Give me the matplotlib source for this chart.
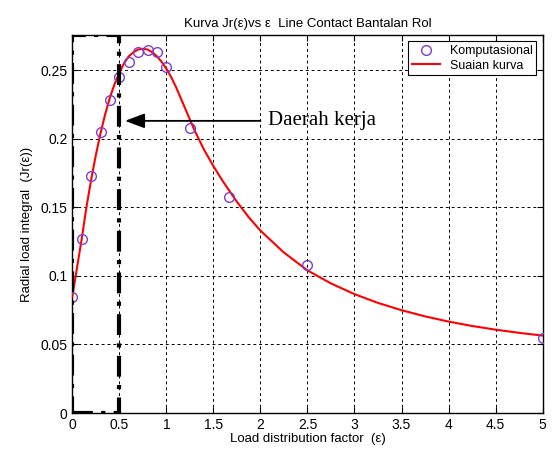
import matplotlib
matplotlib.use("Agg")
import matplotlib.pyplot as plt

# computed points
eps_k = [0, 0.1, 0.2, 0.3, 0.4, 0.5, 0.6, 0.7, 0.8, 0.9, 1.0, 1.25, 1.667, 2.5, 5.0]
jr_k = [0.0845, 0.1266, 0.1727, 0.205, 0.228, 0.245, 0.256, 0.263, 0.2646, 0.263,
        0.252, 0.2075, 0.1577, 0.1079, 0.0545]

# fitted curve
eps_c = [0, 0.05, 0.1, 0.15, 0.2, 0.25, 0.3, 0.35, 0.4, 0.45, 0.5, 0.55, 0.6, 0.65,
         0.7, 0.75, 0.8, 0.85, 0.9, 0.95, 1.0, 1.05, 1.1, 1.15, 1.2, 1.25, 1.3, 1.4,
         1.5, 1.6, 1.75, 1.875, 2.0, 2.25, 2.5, 2.75, 3.0, 3.25, 3.5, 3.75, 4.0, 4.25,
         4.5, 4.75, 5.0]
jr_c = [0.085, 0.106, 0.127, 0.150, 0.170, 0.188, 0.204, 0.218, 0.230, 0.240,
        0.248, 0.255, 0.260, 0.263, 0.265, 0.2655, 0.265, 0.263, 0.260, 0.256,
        0.251, 0.245, 0.238, 0.230, 0.222, 0.214, 0.206, 0.192, 0.180, 0.169,
        0.154, 0.1428, 0.133, 0.117, 0.104, 0.0945, 0.0867, 0.0803, 0.075, 0.0705,
        0.0667, 0.0635, 0.0608, 0.0585, 0.0565]

work_zone = (0, 0.5)

plt.rcParams['font.family'] = ['Liberation Sans', 'DejaVu Sans']
fig = plt.figure(figsize=(5.52, 4.5), dpi=100)
ax = fig.add_axes([0.131, 0.082, 0.852, 0.840])

ax.plot(eps_c, jr_c, color='red', lw=1.5, label='Suaian kurva', zorder=3)
ax.plot(eps_k, jr_k, 'o', mfc='none', mec='#7b3fd0', ms=7, mew=1.0,
        label='Komputasional', zorder=4)

ax.axvspan(work_zone[0], work_zone[1], fill=False, ec='black', lw=3,
           ls=(0, (5, 2, 1, 2)), zorder=5)

ax.annotate('', xy=(0.53, 0.213), xytext=(2.03, 0.213),
            arrowprops=dict(arrowstyle='-|>,head_length=1.2,head_width=0.45',
                            color='black', lw=1.3))
ax.text(2.08, 0.213, 'Daerah kerja', family='Liberation Serif', fontsize=15,
        va='center', ha='left')

ax.set_xlim(0, 5)
ax.set_ylim(0, 0.2755)
ax.set_xticks([0, 0.5, 1, 1.5, 2, 2.5, 3, 3.5, 4, 4.5, 5])
ax.set_xticklabels(['0', '0.5', '1', '1.5', '2', '2.5', '3', '3.5', '4', '4.5', '5'])
ax.set_yticks([0, 0.05, 0.1, 0.15, 0.2, 0.25])
ax.set_yticklabels(['0', '0.05', '0.1', '0.15', '0.2', '0.25'])
ax.grid(True, color='black', ls=(0, (3, 3)), lw=0.7)
ax.tick_params(direction='in', top=True, right=True, labelsize=10, length=4)
for s in ax.spines.values():
    s.set_linewidth(1.0)

ax.set_title('Kurva Jr(ε)vs ε  Line Contact Bantalan Rol', fontsize=9.5)
ax.set_xlabel('Load distribution factor  (ε)', fontsize=9.5, labelpad=1)
ax.set_ylabel('Radial load integral  (Jr(ε))', fontsize=9.5, labelpad=5)

h, l = ax.get_legend_handles_labels()
leg = ax.legend(h[::-1], l[::-1], loc='upper right', fontsize=9, fancybox=False,
                framealpha=1, edgecolor='black', borderaxespad=0.5,
                handlelength=2.2, borderpad=0.3, labelspacing=0.2)
leg.get_frame().set_linewidth(0.8)

fig.savefig('out.png', dpi=100)
